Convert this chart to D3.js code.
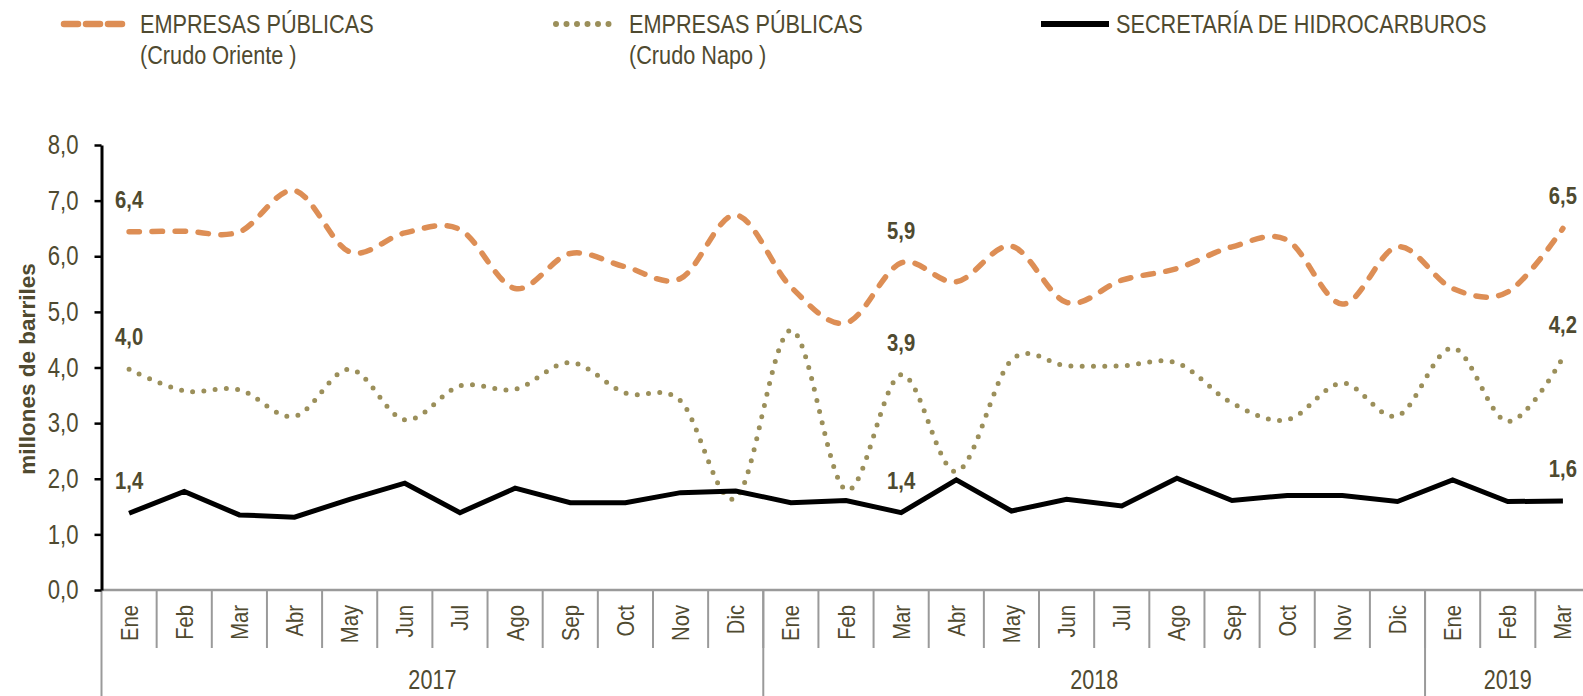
<!DOCTYPE html>
<html>
<head>
<meta charset="utf-8">
<script src="https://cdn.jsdelivr.net/npm/d3@7"></script>
<style>
  body { margin: 0; background: #fff; }
  svg { display: block; }
  text { fill: #4f4a30; }
</style>
</head>
<body>
<svg id="chart" width="1583" height="696"></svg>
<script>
// months Ene 2017 .. Mar 2019
const months = ['Ene','Feb','Mar','Abr','May','Jun','Jul','Ago','Sep','Oct','Nov','Dic',
                'Ene','Feb','Mar','Abr','May','Jun','Jul','Ago','Sep','Oct','Nov','Dic',
                'Ene','Feb','Mar'];
const yearLabels = ['2017', '2018', '2019'];
const yearSpans = [12, 12, 3];

// millones de barriles
const crudoOriente = [6.44, 6.45, 6.44, 7.18, 6.08, 6.42, 6.48, 5.42, 6.05, 5.81, 5.60, 6.74,
                      5.45, 4.80, 5.88, 5.54, 6.18, 5.17, 5.57, 5.78, 6.17, 6.29, 5.14, 6.17,
                      5.42, 5.36, 6.50];
const crudoNapo = [3.97, 3.58, 3.60, 3.12, 3.97, 3.06, 3.67, 3.61, 4.09, 3.54, 3.40, 1.65,
                   4.67, 1.80, 3.87, 2.13, 4.13, 4.03, 4.03, 4.08, 3.36, 3.06, 3.72, 3.13,
                   4.35, 3.03, 4.18];
const secretaria = [1.38, 1.77, 1.35, 1.31, 1.63, 1.92, 1.39, 1.83, 1.57, 1.57, 1.75, 1.78,
                    1.57, 1.61, 1.39, 1.98, 1.42, 1.63, 1.51, 2.01, 1.61, 1.70, 1.70, 1.59,
                    1.98, 1.59, 1.60];
const labelIdx = [0, 14, 26];
const yTicks = [0, 1, 2, 3, 4, 5, 6, 7, 8];

const series = [
  {name: ['EMPRESAS PÚBLICAS', '(Crudo Oriente )'], values: crudoOriente, color: '#dd8e55',
   width: 5.5, dash: '10.5 12.5', legendDash: '14 8', cap: 'round', smooth: true, lx: 64, lw: 62, tx: 140},
  {name: ['EMPRESAS PÚBLICAS', '(Crudo Napo )'], values: crudoNapo, color: '#9b8f5a',
   width: 5, dash: '0 11.3', legendDash: '0 10.5', cap: 'round', smooth: true, lx: 556, lw: 62, tx: 629},
  {name: ['SECRETARÍA DE HIDROCARBUROS'], values: secretaria, color: '#000',
   width: 5, dash: null, legendDash: null, cap: 'butt', smooth: false, lx: 1041, lw: 68, tx: 1116}
];

// no narrow face installed: squeeze the regular one along the reading direction
const SANS = '"Liberation Sans", Arial, sans-serif';

const mLeft = 101.5, mRight = 1590.5, mTop = 145, mBottom = 590;
const svg = d3.select('#chart');

const x = d3.scaleBand().domain(d3.range(months.length)).range([mLeft, mRight]);
const y = d3.scaleLinear().domain([0, 8]).range([mBottom, mTop]);
const cx = i => x(i) + x.bandwidth() / 2;
const fmt = v => d3.format('.1f')(v).replace('.', ',');

/* x axis: gray baseline, month separators, year separators */
const xg = svg.append('g').attr('id', 'x-axis');
xg.selectAll('line.sep').data(d3.range(1, months.length)).enter()
  .append('line').attr('class', 'sep')
  .attr('x1', i => x(i)).attr('x2', i => x(i))
  .attr('y1', mBottom).attr('y2', 648)
  .attr('stroke', '#9a9a9a').attr('stroke-width', 2);

let acc = 0;
const yearStart = yearSpans.map(n => { const s = acc; acc += n; return s; });
xg.selectAll('line.year').data(yearStart).enter()
  .append('line').attr('class', 'year')
  .attr('x1', s => x(s)).attr('x2', s => x(s))
  .attr('y1', mBottom).attr('y2', 696)
  .attr('stroke', '#9a9a9a').attr('stroke-width', 2);

xg.append('line').attr('x1', mLeft).attr('x2', 1583).attr('y1', mBottom).attr('y2', mBottom)
  .attr('stroke', '#9a9a9a').attr('stroke-width', 2.5);

xg.selectAll('text.month').data(months).enter()
  .append('text').attr('class', 'month')
  .attr('transform', (d, i) => `translate(${cx(i) + 8.5}, 605) rotate(-90) scale(0.86, 1)`)
  .attr('text-anchor', 'end')
  .style('font-family', SANS).style('font-size', '23.5px')
  .text(d => d);

xg.selectAll('text.yr').data(yearLabels).enter()
  .append('text').attr('class', 'yr')
  .attr('transform', (d, i) => {
    const a = x(yearStart[i]);
    const b = x(yearStart[i] + yearSpans[i] - 1) + x.bandwidth();
    return `translate(${(a + b) / 2}, 689) scale(0.8, 1)`;
  })
  .attr('text-anchor', 'middle')
  .style('font-family', SANS).style('font-size', '27px')
  .text(d => d);

/* y axis */
const yAxis = d3.axisLeft(y).tickValues(yTicks).tickFormat(fmt).tickSize(7).tickSizeOuter(0).tickPadding(16);
const yg = svg.append('g').attr('id', 'y-axis').attr('transform', `translate(${mLeft}, 0)`).call(yAxis);
yg.select('.domain').attr('stroke', '#000').attr('stroke-width', 3);
yg.selectAll('.tick line').attr('stroke', '#000').attr('stroke-width', 2.5);
yg.selectAll('.tick text').attr('fill', '#4f4a30')
  .attr('x', 0)
  .attr('transform', 'translate(-23, 0) scale(0.82, 1)')
  .style('font-family', SANS).style('font-size', '27px');

svg.append('text')
  .attr('transform', `translate(35, 369) rotate(-90)`)
  .attr('text-anchor', 'middle')
  .style('font-family', SANS).style('font-size', '22.5px').style('font-weight', 'bold')
  .text('millones de barriles');

/* lines */
series.forEach(s => {
  const line = d3.line()
    .x((d, i) => cx(i))
    .y(d => y(d))
    .curve(s.smooth ? d3.curveCardinal.tension(0) : d3.curveLinear);
  svg.append('path')
    .datum(s.values)
    .attr('d', line)
    .attr('fill', 'none')
    .attr('stroke', s.color)
    .attr('stroke-width', s.width)
    .attr('stroke-linecap', s.cap)
    .attr('stroke-linejoin', 'miter')
    .attr('stroke-dasharray', s.dash);

  svg.append('g').selectAll('text').data(labelIdx).enter()
    .append('text')
    .attr('transform', i => `translate(${cx(i)}, ${y(s.values[i]) - 24}) scale(0.88, 1)`)
    .attr('text-anchor', 'middle')
    .style('font-family', SANS).style('font-size', '23px').style('font-weight', 'bold')
    .text(i => fmt(s.values[i]));
});

/* legend */
const lg = svg.append('g').attr('id', 'legend');
series.forEach(s => {
  lg.append('line')
    .attr('x1', s.lx).attr('x2', s.lx + s.lw)
    .attr('y1', 24).attr('y2', 24)
    .attr('stroke', s.color)
    .attr('stroke-width', s.width + 1)
    .attr('stroke-linecap', s.cap)
    .attr('stroke-dasharray', s.legendDash);
  lg.append('text')
    .attr('transform', `translate(${s.tx}, 33) scale(0.85, 1)`)
    .style('font-family', SANS).style('font-size', '25.5px')
    .selectAll('tspan').data(s.name).enter()
    .append('tspan')
    .attr('x', 0)
    .attr('dy', (d, i) => i === 0 ? 0 : 31)
    .text(d => d);
});
</script>
</body>
</html>
